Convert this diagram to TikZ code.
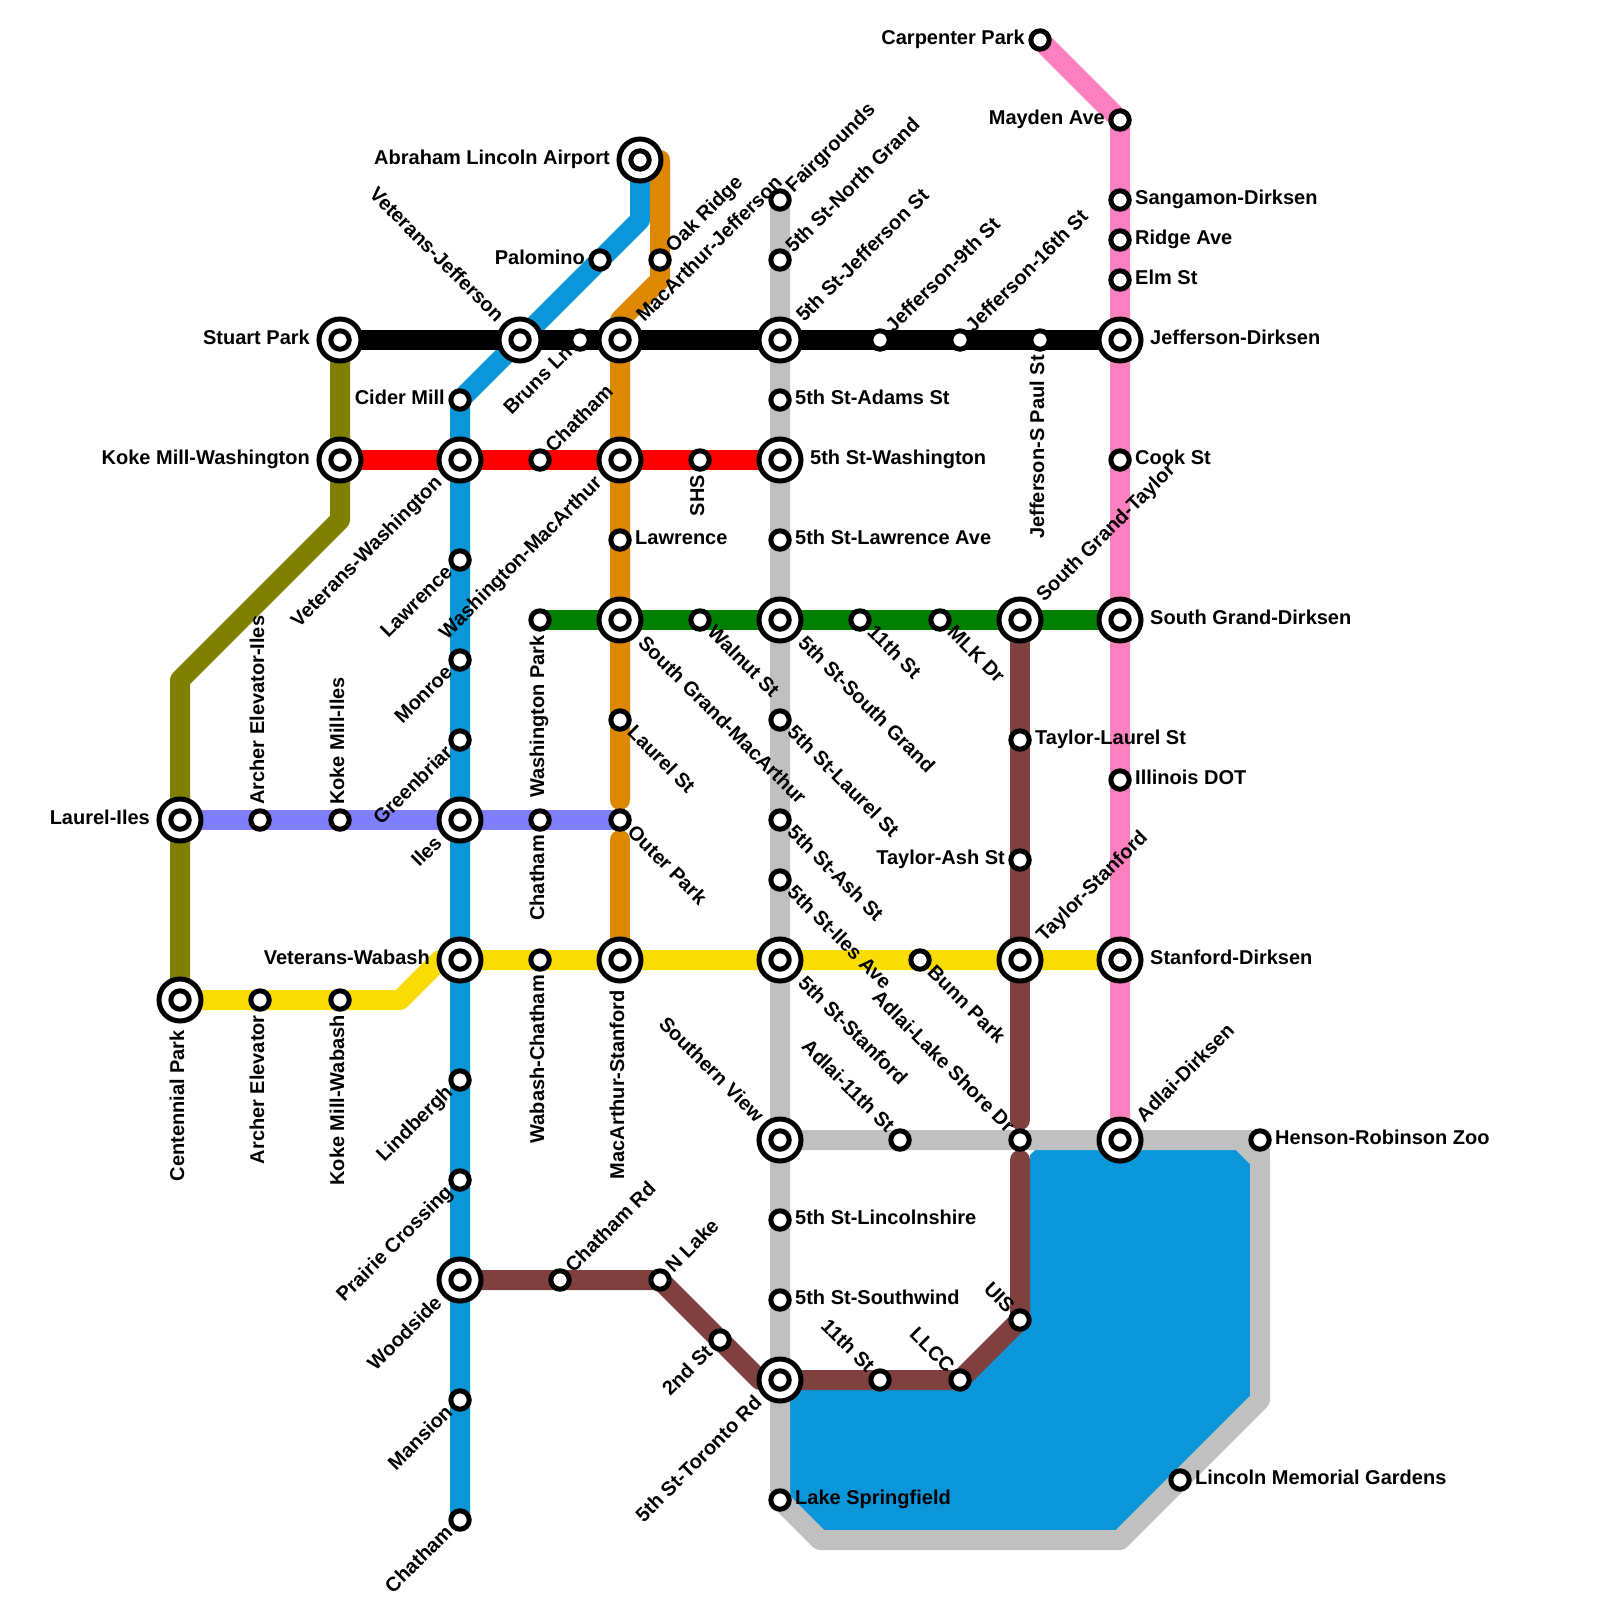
\documentclass[tikz,border=0pt]{standalone}
\usepackage{fontspec}
\setmainfont{Liberation Sans}
\pgfdeclarelayer{lines}
\pgfsetlayers{lines,main}
\definecolor{lakeblue}{RGB}{10,150,216}
\definecolor{lineolive}{RGB}{128,128,0}
\definecolor{lineorange}{RGB}{221,136,0}
\definecolor{linegray}{RGB}{192,192,192}
\definecolor{linepink}{RGB}{255,128,192}
\definecolor{linebrown}{RGB}{128,64,64}
\definecolor{lineyellow}{RGB}{250,220,5}
\definecolor{linegreen}{RGB}{0,128,0}
\definecolor{linepurple}{RGB}{128,128,255}
\begin{document}
\begin{tikzpicture}[x=1pt,y=-1pt,
  stn/.style={circle,draw,line width=5pt,fill=white,inner sep=0pt,minimum size=18.4pt},
  hub/.style={circle,draw,line width=5pt,fill=white,inner sep=0pt,minimum size=42pt,
    path picture={\draw[line width=5pt] (path picture bounding box.center) circle (9.2pt);}},
  track/.style={line width=20pt,line cap=round,line join=round},
  lbl/.style={font=\fontsize{20}{22}\selectfont\bfseries,inner sep=0pt},
  lbe/.style={lbl,anchor=mid west,xshift=#1,yshift=-1.5pt},lbe/.default=15pt,
  lbw/.style={lbl,anchor=mid east,xshift=-#1,yshift=-1.5pt},lbw/.default=15pt,
  lbn/.style={lbl,rotate=90,anchor=mid west,xshift=#1,yshift=-1.5pt},lbn/.default=15pt,
  lbs/.style={lbl,rotate=90,anchor=mid east,xshift=-#1,yshift=-1.5pt},lbs/.default=15pt,
  lbne/.style={lbl,rotate=45,anchor=mid west,xshift=#1,yshift=-2.5pt},lbne/.default=14pt,
  lbse/.style={lbl,rotate=-45,anchor=mid west,xshift=#1,yshift=-2.5pt},lbse/.default=14pt,
  lbnw/.style={lbl,rotate=-45,anchor=mid east,xshift=-#1,yshift=-2.5pt},lbnw/.default=14pt,
  lbsw/.style={lbl,rotate=45,anchor=mid east,xshift=-#1,yshift=-2.5pt},lbsw/.default=14pt
]
  \useasboundingbox (0,0) rectangle (1600,1600);

  % pink line
  \node[stn] (carpenter) at (1040,40) {};
  \node[stn] (mayden) at (1120,120) {};
  \node[stn] (sangamon) at (1120,200) {};
  \node[stn] (ridge) at (1120,240) {};
  \node[stn] (elm) at (1120,280) {};
  \node[hub] (jeffdirk) at (1120,340) {};
  \node[stn] (cook) at (1120,460) {};
  \node[hub] (granddirk) at (1120,620) {};
  \node[stn] (idot) at (1120,780) {};
  \node[hub] (stanfdirk) at (1120,960) {};
  \node[hub] (adlaidirk) at (1120,1140) {};
  \node[lbw] (carpenterT) at (carpenter) {Carpenter Park};
  \node[lbw] (maydenT) at (mayden) {Mayden Ave};
  \node[lbe] (sangamonT) at (sangamon) {Sangamon-Dirksen};
  \node[lbe] (ridgeT) at (ridge) {Ridge Ave};
  \node[lbe] (elmT) at (elm) {Elm St};
  \node[lbe=30pt] (jeffdirkT) at (jeffdirk) {Jefferson-Dirksen};
  \node[lbe] (cookT) at (cook) {Cook St};
  \node[lbe=30pt] (granddirkT) at (granddirk) {South Grand-Dirksen};
  \node[lbe] (idotT) at (idot) {Illinois DOT};
  \node[lbe=30pt] (stanfdirkT) at (stanfdirk) {Stanford-Dirksen};
  \node[lbne=29pt] (adlaidirkT) at (adlaidirk) {Adlai-Dirksen};

  % gray line
  \node[stn] (fair) at (780,200) {};
  \node[stn] (northgrand) at (780,260) {};
  \node[hub] (jeff5) at (780,340) {};
  \node[stn] (adams5) at (780,400) {};
  \node[hub] (wash5) at (780,460) {};
  \node[stn] (law5) at (780,540) {};
  \node[hub] (grand5) at (780,620) {};
  \node[stn] (laurel5) at (780,720) {};
  \node[stn] (ash5) at (780,820) {};
  \node[stn] (iles5) at (780,880) {};
  \node[hub] (stanf5) at (780,960) {};
  \node[hub] (southview) at (780,1140) {};
  \node[stn] (linc5) at (780,1220) {};
  \node[stn] (wind5) at (780,1300) {};
  \node[hub] (toronto) at (780,1380) {};
  \node[stn] (lakespr) at (780,1500) {};
  \node[stn] (gardens) at (1180,1480) {};
  \node[stn] (zoo) at (1260,1140) {};
  \node[stn] (adlai11) at (900,1140) {};
  \node[stn] (shore) at (1020,1140) {};
  \coordinate (lakeSW) at (820,1540);
  \coordinate (lakeSE) at (1120,1540);
  \coordinate (lakeE) at (1260,1400);
  \coordinate (lakeNE) at (1260,1160);
  \coordinate (lakeN) at (1240,1140);
  \node[lbne] (fairT) at (fair) {Fairgrounds};
  \node[lbne] (northgrandT) at (northgrand) {5th St-North Grand};
  \node[lbne=29pt] (jeff5T) at (jeff5) {5th St-Jefferson St};
  \node[lbe] (adams5T) at (adams5) {5th St-Adams St};
  \node[lbe=30pt] (wash5T) at (wash5) {5th St-Washington};
  \node[lbe] (law5T) at (law5) {5th St-Lawrence Ave};
  \node[lbse=29pt] (grand5T) at (grand5) {5th St-South Grand};
  \node[lbse] (laurel5T) at (laurel5) {5th St-Laurel St};
  \node[lbse] (ash5T) at (ash5) {5th St-Ash St};
  \node[lbse] (iles5T) at (iles5) {5th St-Iles Ave};
  \node[lbse=29pt] (stanf5T) at (stanf5) {5th St-Stanford};
  \node[lbnw=29pt] (southviewT) at (southview) {Southern View};
  \node[lbe] (linc5T) at (linc5) {5th St-Lincolnshire};
  \node[lbe] (wind5T) at (wind5) {5th St-Southwind};
  \node[lbsw=29pt] (torontoT) at (toronto) {5th St-Toronto Rd};
  \node[lbe] (lakesprT) at (lakespr) {Lake Springfield};
  \node[lbe] (gardensT) at (gardens) {Lincoln Memorial Gardens};
  \node[lbe] (zooT) at (zoo) {Henson-Robinson Zoo};
  \node[lbnw] (adlai11T) at (adlai11) {Adlai-11th St};
  \node[lbnw] (shoreT) at (shore) {Adlai-Lake Shore Dr};

  % blue line
  \node[hub] (airport) at (640,160) {};
  \node[stn] (palomino) at (600,260) {};
  \node[hub] (vetjeff) at (520,340) {};
  \node[stn] (cider) at (460,400) {};
  \node[hub] (vetwash) at (460,460) {};
  \node[stn] (lawrence) at (460,560) {};
  \node[stn] (monroe) at (460,660) {};
  \node[stn] (greenbriar) at (460,740) {};
  \node[hub] (iles) at (460,820) {};
  \node[hub] (vetwab) at (460,960) {};
  \node[stn] (lindbergh) at (460,1080) {};
  \node[stn] (prairie) at (460,1180) {};
  \node[hub] (woodside) at (460,1280) {};
  \node[stn] (mansion) at (460,1400) {};
  \node[stn] (chathamS) at (460,1520) {};
  \coordinate (blueknee) at (640,220);
  \node[lbw=30pt] (airportT) at (airport) {Abraham Lincoln Airport};
  \node[lbw] (palominoT) at (palomino) {Palomino};
  \node[lbnw=29pt] (vetjeffT) at (vetjeff) {Veterans-Jefferson};
  \node[lbw] (ciderT) at (cider) {Cider Mill};
  \node[lbsw=29pt] (vetwashT) at (vetwash) {Veterans-Washington};
  \node[lbsw] (lawrenceT) at (lawrence) {Lawrence};
  \node[lbsw] (monroeT) at (monroe) {Monroe};
  \node[lbsw] (greenbriarT) at (greenbriar) {Greenbriar};
  \node[lbsw=29pt] (ilesT) at (iles) {Iles};
  \node[lbw=30pt] (vetwabT) at (vetwab) {Veterans-Wabash};
  \node[lbsw] (lindberghT) at (lindbergh) {Lindbergh};
  \node[lbsw] (prairieT) at (prairie) {Prairie Crossing};
  \node[lbsw=29pt] (woodsideT) at (woodside) {Woodside};
  \node[lbsw] (mansionT) at (mansion) {Mansion};
  \node[lbsw] (chathamST) at (chathamS) {Chatham};

  % orange line
  \node[stn] (oak) at (660,260) {};
  \node[hub] (macjeff) at (620,340) {};
  \node[hub] (macwash) at (620,460) {};
  \node[stn] (lawmac) at (620,540) {};
  \node[hub] (macgrand) at (620,620) {};
  \node[stn] (laurelmac) at (620,720) {};
  \node[stn] (outer) at (620,820) {};
  \node[hub] (macstanf) at (620,960) {};
  \coordinate (orangetop) at (660,160);
  \coordinate (orangeknee) at (660,280);
  \coordinate (orangeleft) at (620,320);
  \coordinate (orangeA) at (620,800);
  \coordinate (orangeB) at (620,840);
  \node[lbne] (oakT) at (oak) {Oak Ridge};
  \node[lbne=29pt] (macjeffT) at (macjeff) {MacArthur-Jefferson};
  \node[lbsw=29pt] (macwashT) at (macwash) {Washington-MacArthur};
  \node[lbe] (lawmacT) at (lawmac) {Lawrence};
  \node[lbse=29pt] (macgrandT) at (macgrand) {South Grand-MacArthur};
  \node[lbse] (laurelmacT) at (laurelmac) {Laurel St};
  \node[lbse] (outerT) at (outer) {Outer Park};
  \node[lbs=30pt] (macstanfT) at (macstanf) {MacArthur-Stanford};

  % olive, black, red, green
  \node[hub] (stuart) at (340,340) {};
  \node[hub] (kokewash) at (340,460) {};
  \node[hub] (laureliles) at (180,820) {};
  \node[hub] (centennial) at (180,1000) {};
  \coordinate (oliveA) at (340,520);
  \coordinate (oliveB) at (180,680);
  \node[stn] (bruns) at (580,340) {};
  \node[stn] (jeff9) at (880,340) {};
  \node[stn] (jeff16) at (960,340) {};
  \node[stn] (jeffpaul) at (1040,340) {};
  \node[stn] (chathamR) at (540,460) {};
  \node[stn] (shs) at (700,460) {};
  \node[stn] (washpark) at (540,620) {};
  \node[stn] (walnut) at (700,620) {};
  \node[stn] (st11) at (860,620) {};
  \node[stn] (mlk) at (940,620) {};
  \node[hub] (grandtay) at (1020,620) {};
  \node[lbw=30pt] (stuartT) at (stuart) {Stuart Park};
  \node[lbw=30pt] (kokewashT) at (kokewash) {Koke Mill-Washington};
  \node[lbw=30pt] (laurelilesT) at (laureliles) {Laurel-Iles};
  \node[lbs=30pt] (centennialT) at (centennial) {Centennial Park};
  \node[lbsw] (brunsT) at (bruns) {Bruns Ln};
  \node[lbne] (jeff9T) at (jeff9) {Jefferson-9th St};
  \node[lbne] (jeff16T) at (jeff16) {Jefferson-16th St};
  \node[lbs] (jeffpaulT) at (jeffpaul) {Jefferson-S Paul St};
  \node[lbne] (chathamRT) at (chathamR) {Chatham};
  \node[lbs] (shsT) at (shs) {SHS};
  \node[lbs] (washparkT) at (washpark) {Washington Park};
  \node[lbse] (walnutT) at (walnut) {Walnut St};
  \node[lbse] (st11T) at (st11) {11th St};
  \node[lbse] (mlkT) at (mlk) {MLK Dr};
  \node[lbne=29pt] (grandtayT) at (grandtay) {South Grand-Taylor};

  % purple and yellow
  \node[stn] (archiles) at (260,820) {};
  \node[stn] (kokeiles) at (340,820) {};
  \node[stn] (chathamP) at (540,820) {};
  \node[stn] (archer) at (260,1000) {};
  \node[stn] (kokewab) at (340,1000) {};
  \node[stn] (wabchat) at (540,960) {};
  \node[stn] (bunn) at (920,960) {};
  \node[hub] (taystanf) at (1020,960) {};
  \coordinate (yelA) at (400,1000);
  \coordinate (yelB) at (440,960);
  \node[lbn] (archilesT) at (archiles) {Archer Elevator-Iles};
  \node[lbn] (kokeilesT) at (kokeiles) {Koke Mill-Iles};
  \node[lbs] (chathamPT) at (chathamP) {Chatham};
  \node[lbs] (archerT) at (archer) {Archer Elevator};
  \node[lbs] (kokewabT) at (kokewab) {Koke Mill-Wabash};
  \node[lbs] (wabchatT) at (wabchat) {Wabash-Chatham};
  \node[lbse] (bunnT) at (bunn) {Bunn Park};
  \node[lbne=29pt] (taystanfT) at (taystanf) {Taylor-Stanford};

  % brown line
  \node[stn] (taylaurel) at (1020,740) {};
  \node[stn] (tayash) at (1020,860) {};
  \node[stn] (uis) at (1020,1320) {};
  \node[stn] (llcc) at (960,1380) {};
  \node[stn] (st11b) at (880,1380) {};
  \node[stn] (second) at (720,1340) {};
  \node[stn] (nlake) at (660,1280) {};
  \node[stn] (chatrd) at (560,1280) {};
  \coordinate (brownA) at (1020,1120);
  \coordinate (brownB) at (1020,1160);
  \coordinate (brownC) at (760,1380);
  \node[lbe] (taylaurelT) at (taylaurel) {Taylor-Laurel St};
  \node[lbw] (tayashT) at (tayash) {Taylor-Ash St};
  \node[lbnw] (uisT) at (uis) {UIS};
  \node[lbnw] (llccT) at (llcc) {LLCC};
  \node[lbnw] (st11bT) at (st11b) {11th St};
  \node[lbsw] (secondT) at (second) {2nd St};
  \node[lbne] (nlakeT) at (nlake) {N Lake};
  \node[lbne] (chatrdT) at (chatrd) {Chatham Rd};

  \begin{pgfonlayer}{lines}
    \fill[lakeblue] (1030,1160) -- (1030,1155) -- (1035,1150) -- (1035,1140) -- (zoo.center) -- (lakeE) -- (lakeSE) -- (lakeSW) -- (lakespr.center) -- (toronto.center) -- (llcc.center) -- (uis.center) -- cycle;
    \draw[track,lakeblue] (airport.center) -- (blueknee) -- (palomino.center) -- (vetjeff.center) -- (cider.center) -- (chathamS.center);
    \draw[track,lineorange] (airport.center) -- (orangetop) -- (oak.center) -- (orangeknee) -- (orangeleft) -- (macjeff.center) -- (orangeA);
    \draw[track,lineorange] (orangeB) -- (macstanf.center);
    \draw[track,lineolive] (stuart.center) -- (oliveA) -- (oliveB) -- (centennial.center);
    \draw[track,linegray] (fair.center) -- (lakespr.center) -- (lakeSW) -- (lakeSE) -- (lakeE) -- (lakeNE) -- (lakeN) -- (southview.center);
    \draw[track,linegray] (lakeN) -- (zoo.center) -- (lakeNE);
    \draw[track,linepink] (carpenter.center) -- (mayden.center) -- (adlaidirk.center);
    \draw[track,linebrown] (grandtay.center) -- (brownA);
    \draw[track,linebrown] (brownB) -- (uis.center) -- (llcc.center) -- (toronto.center) -- (brownC) -- (second.center) -- (nlake.center) -- (woodside.center);
    \draw[track,lineyellow] (centennial.center) -- (yelA) -- (yelB) -- (stanfdirk.center);
    \draw[track,linegreen] (washpark.center) -- (granddirk.center);
    \draw[track,red] (kokewash.center) -- (wash5.center);
    \draw[track,linepurple] (laureliles.center) -- (outer.center);
    \draw[track,black] (stuart.center) -- (jeffdirk.center);
  \end{pgfonlayer}
\end{tikzpicture}
\end{document}
